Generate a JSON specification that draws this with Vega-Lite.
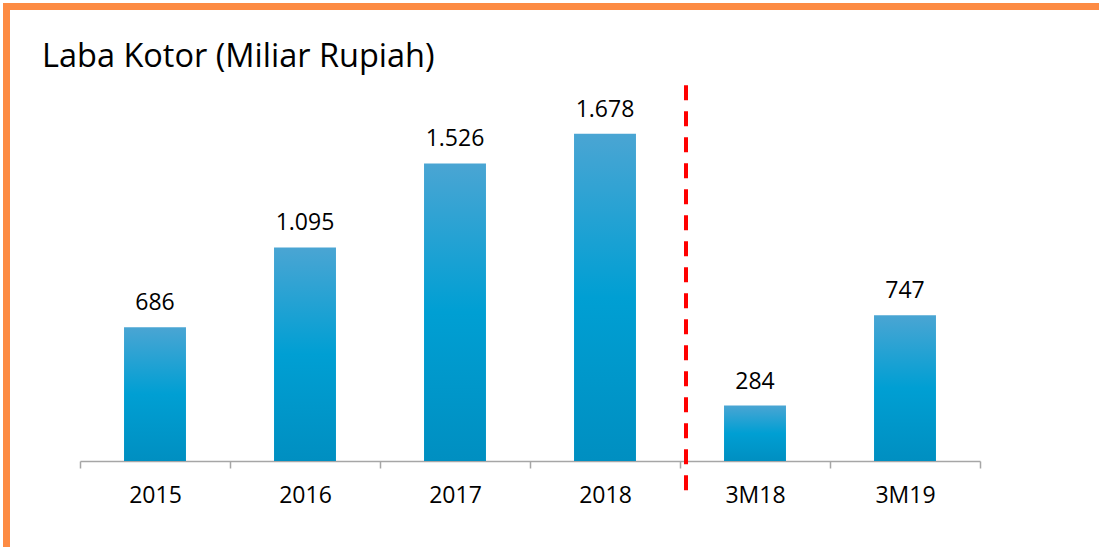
{
  "$schema": "https://vega.github.io/schema/vega-lite/v6.json",
  "autosize": "none",
  "width": 900,
  "height": 390,
  "padding": {"left": 80, "top": 71, "right": 119, "bottom": 86},
  "background": "white",
  "config": {
    "view": {"stroke": null},
    "locale": {"number": {"decimal": ",", "thousands": ".", "grouping": [3], "currency": ["Rp", ""]}},
    "font": "Open Sans"
  },
  "title": {
    "text": "Laba Kotor (Miliar Rupiah)",
    "anchor": "start",
    "frame": "group",
    "dx": -38,
    "offset": 0,
    "dy": 107,
    "baseline": "bottom",
    "fontSize": 32.5,
    "fontWeight": "normal",
    "font": "Open Sans",
    "color": "#000000"
  },
  "datasets": {
    "bars": [
      {"period": "2015", "value": 686},
      {"period": "2016", "value": 1095},
      {"period": "2017", "value": 1526},
      {"period": "2018", "value": 1678},
      {"period": "3M18", "value": 284},
      {"period": "3M19", "value": 747}
    ],
    "divider": [{"pos": 4.04, "y0": -150, "y1": 1944}],
    "frame": [
      {"x0": -0.513, "x1": 6.8, "y0": 2331, "y1": 2331},
      {"x0": -0.49, "x1": -0.49, "y0": 2349, "y1": -450}
    ]
  },
  "layer": [
    {
      "data": {"name": "bars"},
      "encoding": {
        "x": {
          "field": "period",
          "type": "nominal",
          "sort": null,
          "scale": {"paddingInner": 0, "paddingOuter": 0},
          "axis": {
            "title": null,
            "labelAngle": 0,
            "tickBand": "extent",
            "domainColor": "#a6a6a6",
            "tickColor": "#a6a6a6",
            "domainWidth": 1.5,
            "tickWidth": 1.5,
            "tickSize": 7,
            "labelFontSize": 23,
            "labelFont": "Open Sans",
            "labelColor": "#000000",
            "labelPadding": 16
          }
        },
        "y": {
          "field": "value",
          "type": "quantitative",
          "scale": {"domain": [0, 2000]},
          "axis": null
        }
      },
      "layer": [
        {
          "mark": {
            "type": "bar",
            "width": {"band": 0.413},
            "color": {
              "gradient": "linear",
              "x1": 0, "y1": 0, "x2": 0, "y2": 1,
              "stops": [
                {"offset": 0, "color": "#4aa5d3"},
                {"offset": 0.5, "color": "#009fd3"},
                {"offset": 1, "color": "#008fc1"}
              ]
            }
          }
        },
        {
          "mark": {"type": "text", "baseline": "alphabetic", "dy": -17, "fontSize": 23, "font": "Open Sans", "color": "#000000"},
          "encoding": {"text": {"field": "value", "type": "quantitative", "format": ",d"}}
        }
      ]
    },
    {
      "layer": [
        {
          "data": {"name": "divider"},
          "mark": {"type": "rule", "color": "#ff0000", "strokeWidth": 4, "strokeDash": [15, 11], "clip": false},
          "encoding": {
            "x": {"field": "pos", "type": "quantitative", "scale": {"domain": [0, 6], "nice": false, "zero": false}, "axis": null},
            "y": {"field": "y0", "type": "quantitative"},
            "y2": {"field": "y1"}
          }
        },
        {
          "data": {"name": "frame"},
          "mark": {"type": "rule", "color": "#fd8b43", "strokeWidth": 7, "strokeCap": "butt", "clip": false},
          "encoding": {
            "x": {"field": "x0", "type": "quantitative", "scale": {"domain": [0, 6], "nice": false, "zero": false}, "axis": null},
            "x2": {"field": "x1"},
            "y": {"field": "y0", "type": "quantitative"},
            "y2": {"field": "y1"}
          }
        }
      ]
    }
  ],
  "resolve": {"scale": {"x": "independent"}}
}
